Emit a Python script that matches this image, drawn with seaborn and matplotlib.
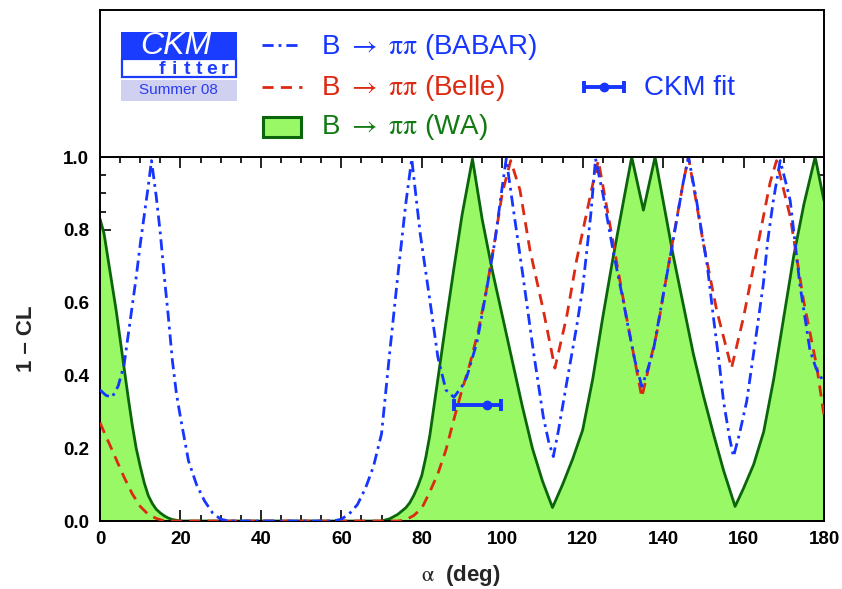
import matplotlib
matplotlib.use("Agg")
import matplotlib.pyplot as plt
import seaborn as sns
from matplotlib.patches import Rectangle
from matplotlib.ticker import MultipleLocator, FormatStrFormatter

# 1 - CL scans of the CKM angle alpha from B -> pi pi
alpha_wa = [0, 1, 2, 3, 4, 5, 6, 7, 8, 9, 10, 11, 12, 13, 14, 15, 16, 17, 18, 19, 20,
            70, 72, 74, 76, 77, 78, 79, 80, 81, 82, 84, 86, 88, 90, 92.6,
            95, 97.5, 100, 102.5, 105, 107.5, 110, 112.5,
            115, 117.5, 120, 122.5, 125, 127.5, 130, 132.2, 135.1, 138,
            140, 142.5, 145, 147.5, 150, 152.5, 155, 157.9,
            160, 162.5, 165, 167.5, 170, 172.5, 175, 177.8, 180]
cl_wa = [0.83, 0.79, 0.72, 0.65, 0.58, 0.50, 0.42, 0.34, 0.265, 0.20, 0.15, 0.105, 0.07,
         0.048, 0.032, 0.022, 0.014, 0.008, 0.004, 0.002, 0.0,
         0.0, 0.006, 0.018, 0.036, 0.05, 0.07, 0.095, 0.125, 0.175, 0.235, 0.39, 0.545,
         0.695, 0.84, 0.995,
         0.83, 0.69, 0.565, 0.44, 0.315, 0.20, 0.11, 0.037,
         0.10, 0.17, 0.25, 0.39, 0.56, 0.72, 0.87, 1.0, 0.854, 1.0,
         0.88, 0.73, 0.595, 0.46, 0.345, 0.24, 0.14, 0.04,
         0.09, 0.155, 0.245, 0.39, 0.56, 0.73, 0.87, 1.0, 0.88]

alpha_babar = [0, 1.5, 3, 4.5, 6, 7, 8, 9, 10, 11, 12, 12.8, 14, 15, 16, 17, 18, 19, 20, 22,
               24, 26, 28, 30, 32, 58, 60, 62, 64, 66, 68, 70, 72, 74, 76, 77.5, 79.6, 82,
               84, 86, 88, 90, 91.2, 93.7, 96.1, 98.2, 99.9, 101, 102.8, 105.2, 107.7, 110.2,
               111.5, 112.7, 114, 116, 118.5, 120, 122, 123.2, 125, 127.6, 130, 131, 133,
               134.7, 136, 137.6, 140, 142, 145, 146.3, 148, 149.2, 151, 152.5, 154, 155,
               156.5, 157.5, 159, 160.8, 163, 164.9, 166, 167.4, 169.1, 170.5, 171.6, 174,
               176.5, 178, 180]
cl_babar = [0.36, 0.345, 0.34, 0.37, 0.43, 0.51, 0.59, 0.67, 0.76, 0.84, 0.92, 0.99, 0.89,
            0.79, 0.67, 0.56, 0.44, 0.35, 0.285, 0.165, 0.10, 0.055, 0.022, 0.005, 0.0,
            0.0, 0.005, 0.02, 0.045, 0.09, 0.15, 0.24, 0.46, 0.67, 0.87, 0.995, 0.79, 0.607,
            0.45, 0.36, 0.34, 0.37, 0.396, 0.49, 0.635, 0.77, 0.91, 0.995, 0.854, 0.67, 0.47,
            0.287, 0.22, 0.177, 0.25, 0.378, 0.534, 0.64, 0.84, 0.995, 0.90, 0.74, 0.61,
            0.55, 0.44, 0.37, 0.41, 0.47, 0.62, 0.74, 0.93, 1.0, 0.90, 0.82, 0.70, 0.56,
            0.43, 0.33, 0.23, 0.177, 0.24, 0.33, 0.50, 0.65, 0.77, 0.88, 0.99, 0.93, 0.88,
            0.65, 0.47, 0.42, 0.38]

alpha_belle = [0, 2, 4, 6, 8, 10, 12, 14, 16, 74, 76, 78, 80, 82, 84, 86, 88, 90, 92, 94,
               96, 98, 100, 102.1, 104.4, 106.9, 110.2, 113.1, 116, 118.5, 122.6, 123.9,
               127.6, 130.9, 134.7, 138.4, 141.7, 145, 146.3, 150, 153.3, 157, 160, 163.3,
               166.6, 168.2, 171.6, 174.9, 178.2, 180]
cl_belle = [0.27, 0.22, 0.17, 0.12, 0.075, 0.04, 0.018, 0.007, 0.0, 0.0, 0.003, 0.015,
            0.035, 0.08, 0.13, 0.195, 0.28, 0.36, 0.433, 0.52, 0.63, 0.76, 0.90, 0.99, 0.91,
            0.744, 0.58, 0.42, 0.56, 0.717, 0.93, 0.99, 0.763, 0.56, 0.34, 0.515, 0.726,
            0.93, 1.0, 0.763, 0.58, 0.42, 0.56, 0.744, 0.93, 0.99, 0.836, 0.607, 0.424, 0.29]

# global CKM fit result for alpha (deg)
fit_alpha = 96.1
fit_err_low = 8.0
fit_err_high = 3.6
fit_level = 0.32

x_ticks = [0, 20, 40, 60, 80, 100, 120, 140, 160, 180]
y_ticks = [0.0, 0.2, 0.4, 0.6, 0.8, 1.0]

legend_labels = [r"B $\rightarrow$ $\mathrm{\pi\pi}$ (BABAR)",
                 r"B $\rightarrow$ $\mathrm{\pi\pi}$ (Belle)",
                 r"B $\rightarrow$ $\mathrm{\pi\pi}$ (WA)",
                 "CKM fit"]

BLUE = "#1636ff"
RED = "#dc2a12"
GREEN_LINE = "#0b660b"
GREEN_FILL = "#99f866"
GREEN_TEXT = "#137a13"

sns.set_theme(style="ticks")
plt.rcParams["font.family"] = ["Liberation Sans", "DejaVu Sans"]
plt.rcParams["mathtext.fontset"] = "stix"

W, H = 842, 589
fig = plt.figure(figsize=(W / 100, H / 100), dpi=100)
fig.patch.set_facecolor("white")

# main scan panel
ax = fig.add_axes([100 / W, 1 - 521 / H, 724 / W, 364 / H])
ax.set_facecolor("white")
ax.fill_between(alpha_wa, cl_wa, 0, color=GREEN_FILL, lw=0, zorder=1)
sns.lineplot(x=alpha_wa, y=cl_wa, ax=ax, color=GREEN_LINE, lw=2.0,
             sort=False, estimator=None, zorder=2)
sns.lineplot(x=alpha_belle, y=cl_belle, ax=ax, color=RED, lw=2.0,
             linestyle=(0, (4, 2.6)), sort=False, estimator=None, zorder=3)
sns.lineplot(x=alpha_babar, y=cl_babar, ax=ax, color=BLUE, lw=2.0,
             linestyle=(0, (4, 1.8, 1, 1.8)), sort=False, estimator=None, zorder=4)
ax.errorbar(fit_alpha, fit_level, xerr=[[fit_err_low], [fit_err_high]], fmt="o",
            color=BLUE, ms=6, elinewidth=2.8, capsize=4.5, capthick=2.8, zorder=5)

ax.set_xlim(0, 180)
ax.set_ylim(0, 1.0)
ax.set_xticks(x_ticks)
ax.set_yticks(y_ticks)
ax.xaxis.set_minor_locator(MultipleLocator(5))
ax.yaxis.set_minor_locator(MultipleLocator(0.05))
ax.yaxis.set_major_formatter(FormatStrFormatter("%.1f"))
ax.tick_params(which="both", direction="in", top=True, right=True, colors="black",
               width=1.2, labelsize=13.5)
ax.tick_params(which="major", length=8)
ax.tick_params(which="minor", length=4.5)
ax.tick_params(axis="x", pad=7)
ax.tick_params(axis="y", pad=8)
for lab in ax.get_xticklabels() + ax.get_yticklabels():
    lab.set_fontweight("bold")
for sp in ax.spines.values():
    sp.set_visible(True)
    sp.set_linewidth(1.4)
    sp.set_color("black")
ax.set_xlabel("")
ax.set_ylabel("")

fig.text(461 / W, 1 - 576 / H, r"$\mathrm{\alpha}$  (deg)", ha="center", va="center",
         fontsize=16, fontweight="bold")
fig.text(26 / W, 1 - 339 / H, "1 \u2013 CL", ha="center", va="center",
         rotation=90, fontsize=16, fontweight="bold")

# legend panel (coordinates in figure pixels)
lg = fig.add_axes([100 / W, 1 - 157 / H, 724 / W, 147 / H])
lg.set_facecolor("white")
lg.set_xlim(100, 824)
lg.set_ylim(157, 10)
lg.set_xticks([])
lg.set_yticks([])
for sp in lg.spines.values():
    sp.set_visible(True)
    sp.set_linewidth(1.4)
    sp.set_color("black")

# CKMfitter logo
lg.add_patch(Rectangle((121, 31.7), 116, 27.6, facecolor="#1a3cff", edgecolor="none"))
lg.add_patch(Rectangle((122, 59.3), 114, 18, facecolor="white", edgecolor="#1a3cff", lw=1.6))
lg.add_patch(Rectangle((121, 80), 116, 21, facecolor="#d0d1f1", edgecolor="none"))
lg.text(176, 46, "CKM", color="white", fontsize=23, style="italic",
        ha="center", va="center")
for i, ch in enumerate("fitter"):
    lg.text(161.5 + 12.5 * i, 69.5, ch, color="#1a3cff", fontsize=14, fontweight="bold",
            ha="center", va="center")
lg.text(178, 90.5, "Summer 08", color="#2a3cf0", fontsize=11, ha="center", va="center")

# legend entries
lg.plot([262, 302], [45, 45], color=BLUE, lw=2.0, linestyle=(0, (4, 1.8, 1, 1.8)))
lg.plot([262, 302], [86.5, 86.5], color=RED, lw=2.0, linestyle=(0, (4, 2.6)))
lg.add_patch(Rectangle((263, 117), 38, 19.5, facecolor=GREEN_FILL, edgecolor=GREEN_LINE, lw=2.2))
lg.errorbar(604, 87, xerr=20, fmt="o", color=BLUE, ms=6, elinewidth=2.8,
            capsize=4.5, capthick=2.8)
text_kw = dict(fontsize=20, va="center", ha="left")
lg.text(321, 46.5, legend_labels[0], color=BLUE, **text_kw)
lg.text(321, 88, legend_labels[1], color=RED, **text_kw)
lg.text(321, 127.5, legend_labels[2], color=GREEN_TEXT, **text_kw)
lg.text(644, 88, legend_labels[3], color=BLUE, **text_kw)

fig.savefig("out.png", dpi=100)
